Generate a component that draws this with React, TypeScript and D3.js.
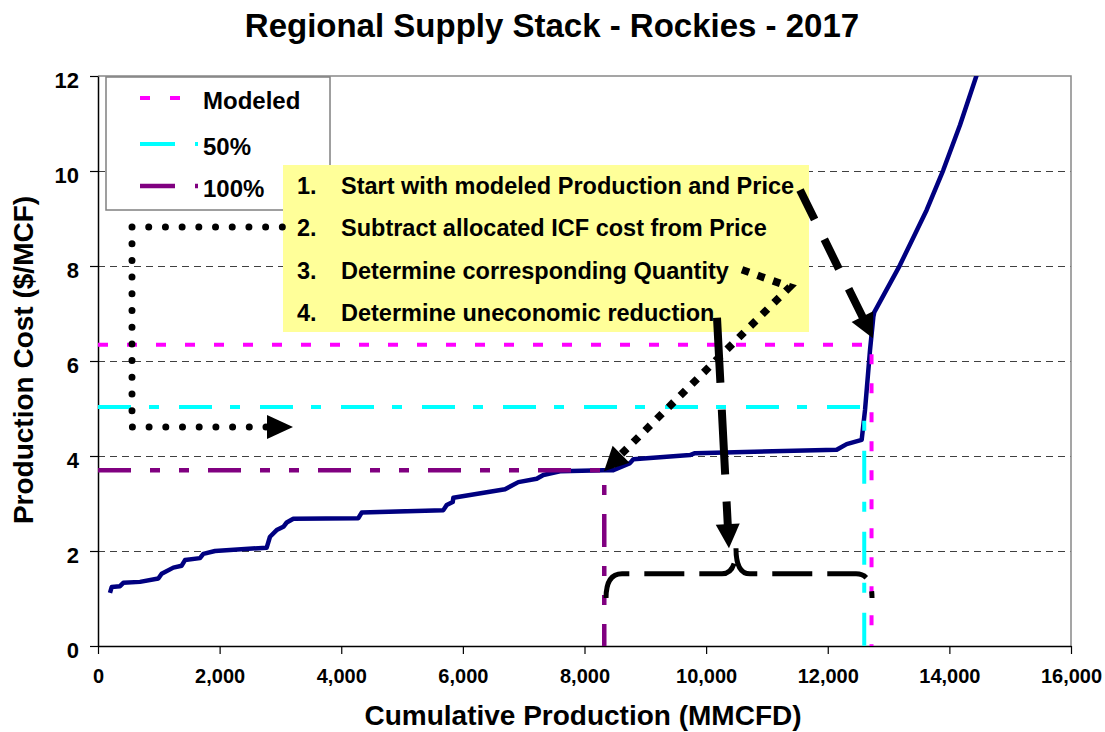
import React, { useEffect, useRef } from 'react';
import * as d3 from 'd3';

const W = 1105;
const H = 732;

// supply curve
const production = [197, 225, 362, 416, 690, 992, 1047, 1239, 1376, 1431, 1677, 1732, 1924, 2774, 2828, 2938, 3048, 3103, 3212, 4281, 4336, 5679, 5734, 5833, 5843, 6693, 6912, 7214, 7323, 7597, 8310, 8474, 8748, 8803, 9735, 9817, 12147, 12311, 12558, 12613, 12695, 12750, 12766, 13188, 13627, 13900, 14175, 14449];
const cost = [1.12, 1.24, 1.26, 1.33, 1.35, 1.42, 1.52, 1.65, 1.69, 1.81, 1.85, 1.94, 2.0, 2.07, 2.3, 2.44, 2.51, 2.6, 2.68, 2.69, 2.81, 2.86, 2.97, 3.03, 3.12, 3.3, 3.45, 3.52, 3.6, 3.68, 3.7, 3.7, 3.85, 3.93, 4.02, 4.06, 4.13, 4.25, 4.34, 4.97, 6.23, 6.93, 7.03, 8.02, 9.18, 10.02, 10.97, 12.02];

// reference cases
const refNames = ['Modeled', '50%', '100%'];
const refQuantity = [12720, 12600, 8325];
const refPrice = [6.34, 5.03, 3.7];

const xTicks = [0, 2000, 4000, 6000, 8000, 10000, 12000, 14000, 16000];
const yTicks = [0, 2, 4, 6, 8, 10, 12];

const steps = [
  'Start with modeled Production and Price',
  'Subtract allocated ICF cost from Price',
  'Determine corresponding Quantity',
  'Determine uneconomic reduction',
];

// annotation anchors, in data units
const loopPts = [[3031, 8.82], [559, 8.82], [559, 4.61], [2780, 4.61]];
const loopTip = [3207, 4.61];
const priceFrom = [11544, 9.6];
const priceTip = [12744, 6.48];
const qtyPts = [[10590, 7.92], [11379, 7.56]];
const qtyTip = [8321, 3.68];
const reduceFrom = [10179, 6.91];
const reduceTip = [10376, 2.06];
const brace = { left: 8354, mid: 10491, right: 12728, bar: 1.52, end: 1.01, tip: 2.06 };

const FONT = "'Liberation Sans', Arial, Helvetica, sans-serif";

const App = () => {
  const ref = useRef<SVGSVGElement>(null);

  useEffect(() => {
    const svg = d3.select(ref.current)
      .attr('width', W)
      .attr('height', H);

    svg.selectAll('*').remove();

    const x = d3.scaleLinear().domain([0, 16000]).range([98, 1071]);
    const y = d3.scaleLinear().domain([0, 12]).range([646, 76]);

    const refStyle = [
      { color: '#ff00ff', dash: '10,19', width: 4 },
      { color: '#00ffff', dash: '33,18,10,20', width: 4 },
      { color: '#800080', dash: '33,19,10,19,10,19', width: 4.5 },
    ];

    svg.append('defs').append('clipPath').attr('id', 'plot')
      .append('rect')
      .attr('x', x(0)).attr('y', y(12))
      .attr('width', x(16000) - x(0)).attr('height', y(0) - y(12));

    // title
    svg.append('text')
      .attr('x', 552).attr('y', 37)
      .attr('text-anchor', 'middle')
      .attr('font-family', FONT).attr('font-weight', 'bold').attr('font-size', 33)
      .text('Regional Supply Stack - Rockies - 2017');

    // gridlines
    svg.append('g')
      .selectAll('line')
      .data(yTicks.filter(t => t > 0 && t < 12))
      .enter()
      .append('line')
      .attr('x1', x(0)).attr('x2', x(16000))
      .attr('y1', d => Math.round(y(d)) + 0.5).attr('y2', d => Math.round(y(d)) + 0.5)
      .attr('stroke', '#404040').attr('stroke-width', 1)
      .attr('stroke-dasharray', '7,5');

    // top and right frame
    svg.append('path')
      .attr('d', `M${x(0)},${y(12)}H${x(16000)}V${y(0)}`)
      .attr('fill', 'none').attr('stroke', '#888').attr('stroke-width', 1.5);

    // axes
    const yAxis = svg.append('g')
      .attr('transform', `translate(${x(0)},0)`)
      .call(d3.axisLeft(y).tickValues(yTicks).tickSize(8).tickSizeOuter(0).tickPadding(11));
    const xAxis = svg.append('g')
      .attr('transform', `translate(0,${y(0)})`)
      .call(d3.axisBottom(x).tickValues(xTicks).tickFormat(d3.format(',')).tickSize(8).tickSizeOuter(0).tickPadding(15));

    [yAxis, xAxis].forEach(g => {
      g.attr('font-family', FONT).attr('font-weight', 'bold');
      g.select('.domain').attr('stroke', '#000').attr('stroke-width', 1.5);
      g.selectAll('.tick line').attr('stroke', '#000').attr('stroke-width', 1.2);
      g.selectAll('text').attr('fill', '#000');
    });
    yAxis.attr('font-size', 22);
    yAxis.selectAll('text').attr('dy', '0.5em');
    xAxis.attr('font-size', 20);

    // axis titles
    svg.append('text')
      .attr('x', 583).attr('y', 725)
      .attr('text-anchor', 'middle')
      .attr('font-family', FONT).attr('font-weight', 'bold').attr('font-size', 28)
      .text('Cumulative Production (MMCFD)');
    svg.append('text')
      .attr('transform', 'rotate(-90)')
      .attr('x', -360).attr('y', 33)
      .attr('text-anchor', 'middle')
      .attr('font-family', FONT).attr('font-weight', 'bold').attr('font-size', 28)
      .text('Production Cost ($/MCF)');

    // supply curve
    const line = d3.line<number>()
      .x((d, i) => x(production[i]))
      .y(d => y(d));
    svg.append('path')
      .attr('clip-path', 'url(#plot)')
      .attr('d', line(cost))
      .attr('fill', 'none')
      .attr('stroke', '#000080')
      .attr('stroke-width', 4.5)
      .attr('stroke-linejoin', 'round');

    // reference price / quantity lines
    [2, 1, 0].forEach(i => {
      svg.append('path')
        .attr('d', `M${x(0)},${y(refPrice[i])}H${x(refQuantity[i])}V${y(0)}`)
        .attr('fill', 'none')
        .attr('stroke', refStyle[i].color)
        .attr('stroke-width', refStyle[i].width)
        .attr('stroke-dasharray', refStyle[i].dash);
    });

    // legend
    const legend = svg.append('g');
    legend.append('rect')
      .attr('x', 106).attr('y', 77).attr('width', 224).attr('height', 133)
      .attr('fill', '#fff').attr('stroke', '#808080').attr('stroke-width', 1.5);
    const rowY = [98, 144, 186];
    refNames.forEach((name, i) => {
      legend.append('line')
        .attr('x1', 140).attr('x2', 198)
        .attr('y1', rowY[i]).attr('y2', rowY[i])
        .attr('stroke', refStyle[i].color)
        .attr('stroke-width', refStyle[i].width)
        .attr('stroke-dasharray', i === 0 ? '10,20' : '35,20,10');
      legend.append('text')
        .attr('x', 203).attr('y', rowY[i] + 11)
        .attr('font-family', FONT).attr('font-weight', 'bold').attr('font-size', 24)
        .text(name);
    });

    const pt = (p: number[]) => [x(p[0]), y(p[1])];

    const head = (g: any, tip: number[], from: number[], len: number, half: number) => {
      const dx = tip[0] - from[0];
      const dy = tip[1] - from[1];
      const n = Math.hypot(dx, dy);
      const ux = dx / n;
      const uy = dy / n;
      const bx = tip[0] - ux * len;
      const by = tip[1] - uy * len;
      g.append('polygon')
        .attr('points', [
          [tip[0], tip[1]],
          [bx - uy * half, by + ux * half],
          [bx + uy * half, by - ux * half],
        ].map(p => p.join(',')).join(' '))
        .attr('fill', '#000');
      return [bx + ux * 2, by + uy * 2];
    };

    const ann = svg.append('g');

    // dotted loop from step 2 to the quantity axis
    const loop = loopPts.map(pt);
    ann.append('path')
      .attr('d', d3.line()(loop as [number, number][]))
      .attr('fill', 'none').attr('stroke', '#000')
      .attr('stroke-width', 7).attr('stroke-linecap', 'round')
      .attr('stroke-dasharray', '0,16.7');
    head(ann, pt(loopTip), loop[loop.length - 1], 26, 12);

    // step box
    const box = svg.append('g');
    box.append('rect')
      .attr('x', 283).attr('y', 165).attr('width', 526).attr('height', 167)
      .attr('fill', '#ffff99');
    steps.forEach((s, i) => {
      const by = 194 + i * 42.3;
      box.append('text')
        .attr('x', 297).attr('y', by)
        .attr('font-family', FONT).attr('font-weight', 'bold').attr('font-size', 23.5)
        .text(`${i + 1}.`);
      box.append('text')
        .attr('x', 341).attr('y', by)
        .attr('font-family', FONT).attr('font-weight', 'bold').attr('font-size', 23.5)
        .text(s);
    });

    // dashed arrow to modeled point
    {
      const a = pt(priceFrom);
      const t = pt(priceTip);
      const b = head(ann.raise(), t, a, 24, 12);
      ann.append('line')
        .attr('x1', a[0]).attr('y1', a[1]).attr('x2', b[0]).attr('y2', b[1])
        .attr('stroke', '#000').attr('stroke-width', 8)
        .attr('stroke-dasharray', '33,22');
    }

    // square-dotted arrow to the 100% quantity
    {
      const p = qtyPts.map(pt);
      const t = pt(qtyTip);
      const b = head(ann, t, p[p.length - 1], 24, 12);
      ann.append('path')
        .attr('d', d3.line()([...p, b] as [number, number][]))
        .attr('fill', 'none').attr('stroke', '#000')
        .attr('stroke-width', 7.5)
        .attr('stroke-dasharray', '7.5,9');
    }

    // dashed arrow down to the reduction brace
    {
      const a = pt(reduceFrom);
      const t = pt(reduceTip);
      const b = head(ann, t, a, 24, 12);
      ann.append('line')
        .attr('x1', a[0]).attr('y1', a[1]).attr('x2', b[0]).attr('y2', b[1])
        .attr('stroke', '#000').attr('stroke-width', 8)
        .attr('stroke-dasharray', '65,27');
    }

    // brace marking the reduction
    {
      const L = x(brace.left);
      const M = x(brace.mid);
      const R = x(brace.right);
      const yb = y(brace.bar);
      const ye = y(brace.end);
      const yt = y(brace.tip);
      const d = `M${L},${ye}Q${L},${yb} ${L + 16},${yb}L${M - 14},${yb}Q${M},${yb} ${M},${yt}`
        + `Q${M},${yb} ${M + 14},${yb}L${R - 16},${yb}Q${R},${yb} ${R},${ye}`;
      ann.append('path')
        .attr('d', d)
        .attr('fill', 'none').attr('stroke', '#000')
        .attr('stroke-width', 5)
        .attr('stroke-dasharray', '40,15');
    }
    ann.raise();
  }, []);

  return <svg ref={ref} style={{ position: 'absolute', left: 0, top: 0, background: '#fff' }}></svg>;
};

export default App;
